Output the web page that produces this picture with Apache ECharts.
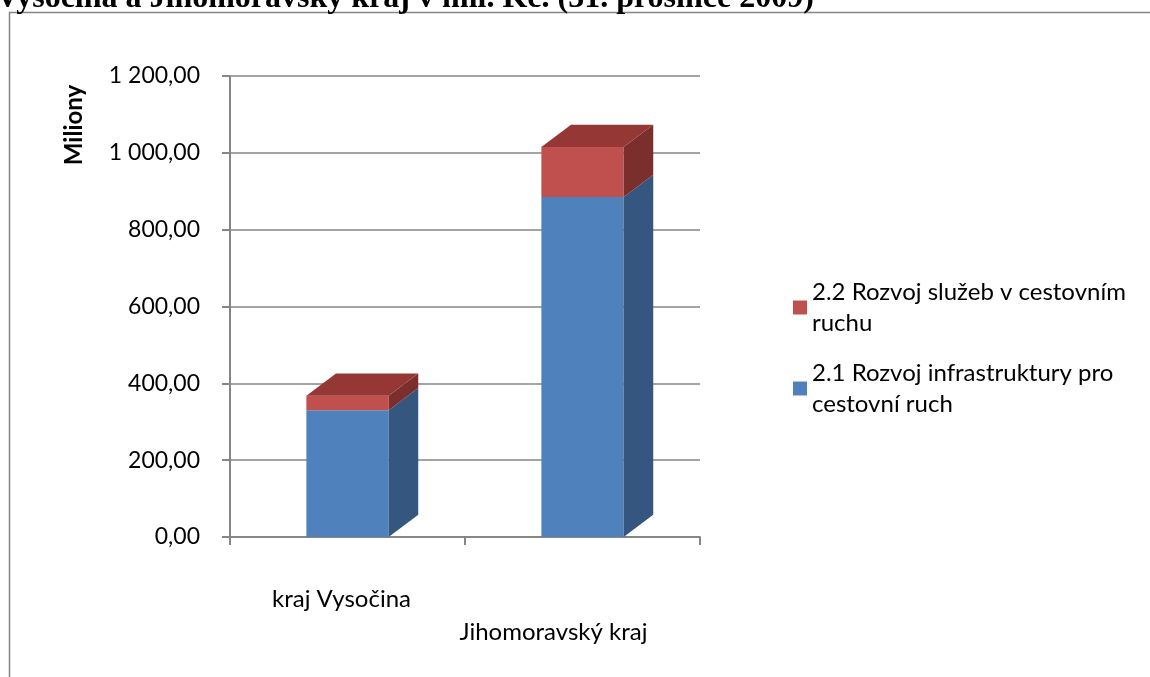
<!DOCTYPE html>
<html>
<head>
<meta charset="utf-8">
<title>Vysočina a Jihomoravský kraj</title>
<script src="https://cdn.jsdelivr.net/npm/echarts@6/dist/echarts.min.js"></script>
<style>
    html, body { margin: 0; padding: 0; background: #fff; }
    #main { width: 1150px; height: 677px; }
</style>
</head>
<body>
<div id="main"></div>
<script>
// data (mil. Kč)
var categories = ['kraj Vysočina', 'Jihomoravský kraj']
var infraName = '2.1 Rozvoj infrastruktury pro cestovní ruch'
var sluzbyName = '2.2 Rozvoj služeb v cestovním ruchu'
var infraValues = [330, 885]
var sluzbyValues = [38, 130]
var yMin = 0
var yMax = 1200
var yStep = 200

// legend text wrapped like in the original
var legendLines = {}
legendLines[sluzbyName] = '2.2 Rozvoj služeb v cestovním\nruchu'
legendLines[infraName] = '2.1 Rozvoj infrastruktury pro\ncestovní ruch'

var font = 'Lato'
var gray = '#868686'
var faces = {
    blue: { front: '#4F81BD', side: '#34567F', top: '#4A79B1' },
    red: { front: '#C0504D', side: '#7A2F2D', top: '#953735' },
}

// [category index, bottom, top] for the stacked boxes
var infraData = []
var sluzbyData = []
for (var i = 0; i < categories.length; i++) {
    infraData.push([i, 0, infraValues[i]])
    sluzbyData.push([i, infraValues[i], infraValues[i] + sluzbyValues[i]])
}

// box with front face, right side and (for the top segment) a lid
var makeBox = function(colors, withLid) {
    return function(params, api) {
        var idx = api.value(0)
        var p0 = api.coord([idx, api.value(1)])
        var p1 = api.coord([idx, api.value(2)])
        var w = api.size([1, 0])[0] * 0.35
        var dx = w * 0.36
        var dy = w * 0.27
        var x0 = p0[0] - w / 2
        var x1 = x0 + w
        var children = [
            {
                type: 'rect',
                shape: { x: x0, y: p1[1], width: w, height: p0[1] - p1[1] },
                style: { fill: colors.front },
            },
            {
                type: 'polygon',
                shape: { points: [[x1, p1[1]], [x1 + dx, p1[1] - dy], [x1 + dx, p0[1] - dy], [x1, p0[1]]] },
                style: { fill: colors.side },
            },
        ]
        if (withLid) {
            children.push({
                type: 'polygon',
                shape: { points: [[x0, p1[1]], [x0 + dx, p1[1] - dy], [x1 + dx, p1[1] - dy], [x1, p1[1]]] },
                style: { fill: colors.top },
            })
        }
        return { type: 'group', children: children }
    }
}

var formatNumber = function(v) {
    var s = v.toFixed(2).split('.')
    var intPart = s[0].replace(/\B(?=(\d{3})+(?!\d))/g, ' ')
    return intPart + ',' + s[1]
}

var chart = echarts.init(document.getElementById('main'))

var option = {
    animation: false,
    title: {
        text: 'Vysočina a Jihomoravský kraj v mil. Kč. (31. prosince 2009)',
        left: -9,
        top: -22,
        textStyle: { fontFamily: 'Liberation Serif', fontWeight: 'bold', fontSize: 32, color: '#000' },
    },
    graphic: [
        {
            type: 'rect',
            shape: { x: 9.5, y: 12.5, width: 1300, height: 800 },
            style: { fill: 'none', stroke: gray, lineWidth: 1.5 },
        },
        {
            type: 'text',
            x: 74,
            y: 125,
            rotation: Math.PI / 2,
            style: {
                text: 'Miliony',
                align: 'center',
                verticalAlign: 'middle',
                font: 'bold 24px ' + font,
                fill: '#000',
            },
        },
    ],
    legend: {
        orient: 'vertical',
        left: 788,
        top: 256,
        itemWidth: 14,
        itemHeight: 14,
        itemGap: -12,
        icon: 'rect',
        data: [sluzbyName, infraName],
        formatter: function(name) {
            return legendLines[name]
        },
        textStyle: { fontFamily: font, fontSize: 24, color: '#000', lineHeight: 31, padding: [31, 0, 0, 0] },
    },
    grid: { left: 230, right: 450, top: 76, bottom: 140 },
    xAxis: {
        type: 'category',
        data: categories,
        axisLine: { lineStyle: { color: gray, width: 2 } },
        axisTick: { show: true, length: 8, lineStyle: { color: gray, width: 2 } },
        axisLabel: {
            interval: 0,
            hideOverlap: false,
            margin: 50,
            fontFamily: font,
            fontSize: 24,
            color: '#000',
            // the 3D floor in the original pushes the labels left and down
            formatter: function(value, index) {
                return index === 1 ? '{low|' + value + '}' : '{high|' + value + '}'
            },
            rich: {
                high: { padding: [0, 12, 0, 0], fontFamily: font, fontSize: 24, color: '#000' },
                low: { padding: [33, 58, 0, 0], fontFamily: font, fontSize: 24, color: '#000' },
            },
        },
    },
    yAxis: {
        type: 'value',
        min: yMin,
        max: yMax,
        interval: yStep,
        axisLine: { show: true, lineStyle: { color: gray, width: 2 } },
        axisTick: { show: true, length: 8, lineStyle: { color: gray, width: 2 } },
        splitLine: { lineStyle: { color: gray, width: 1.5 } },
        axisLabel: {
            margin: 30,
            fontFamily: font,
            fontSize: 23,
            color: '#000',
            formatter: formatNumber,
        },
    },
    series: [
        {
            name: infraName,
            type: 'custom',
            renderItem: makeBox(faces.blue, false),
            itemStyle: { color: faces.blue.front },
            encode: { x: 0, y: [1, 2] },
            data: infraData,
        },
        {
            name: sluzbyName,
            type: 'custom',
            renderItem: makeBox(faces.red, true),
            itemStyle: { color: faces.red.front },
            encode: { x: 0, y: [1, 2] },
            data: sluzbyData,
        },
    ],
}

chart.setOption(option)
</script>
</body>
</html>
